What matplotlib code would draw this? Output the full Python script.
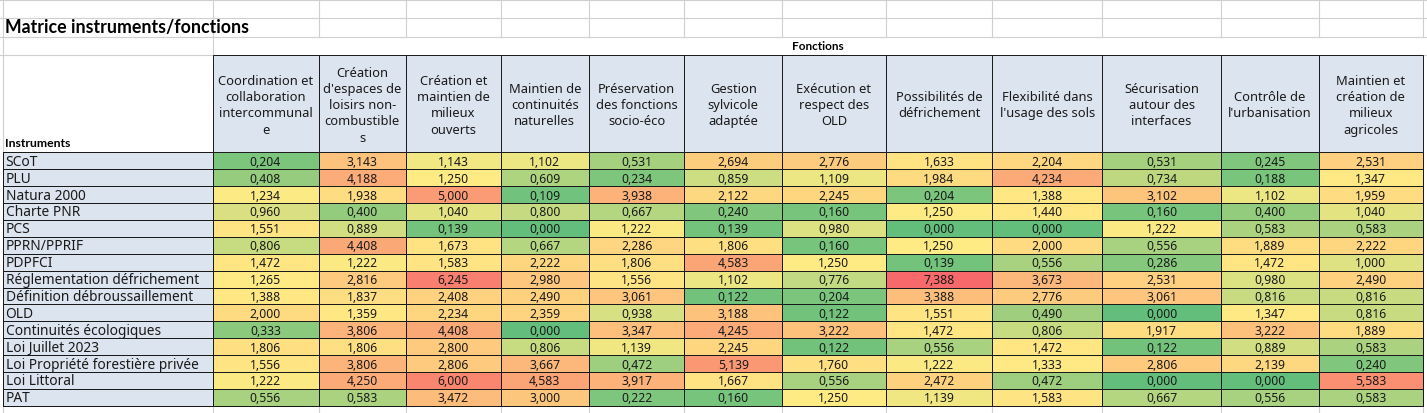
import numpy as np
import matplotlib
matplotlib.use("Agg")
import matplotlib.pyplot as plt
from matplotlib.colors import LinearSegmentedColormap, TwoSlopeNorm
from matplotlib.patches import Rectangle

title = "Matrice instruments/fonctions"
col_group = "Fonctions"
row_group = "Instruments"

instruments = ["SCoT", "PLU", "Natura 2000", "Charte PNR", "PCS", "PPRN/PPRIF", "PDPFCI",
               "Réglementation défrichement", "Définition débroussaillement", "OLD",
               "Continuités écologiques", "Loi Juillet 2023", "Loi Propriété forestière privée",
               "Loi Littoral", "PAT"]

fonctions = ["Coordination et\ncollaboration\nintercommunal\ne",
             "Création\nd'espaces de\nloisirs non-\ncombustible\ns",
             "Création et\nmaintien de\nmilieux\nouverts",
             "Maintien de\ncontinuités\nnaturelles",
             "Préservation\ndes fonctions\nsocio-éco",
             "Gestion\nsylvicole\nadaptée",
             "Exécution et\nrespect des\nOLD",
             "Possibilités de\ndéfrichement",
             "Flexibilité dans\nl'usage des sols",
             "Sécurisation\nautour des\ninterfaces",
             "Contrôle de\nl'urbanisation",
             "Maintien et\ncréation de\nmilieux\nagricoles"]

c1 = [0.204, 0.408, 1.234, 0.960, 1.551, 0.806, 1.472, 1.265, 1.388, 2.000, 0.333, 1.806, 1.556, 1.222, 0.556]
c2 = [3.143, 4.188, 1.938, 0.400, 0.889, 4.408, 1.222, 2.816, 1.837, 1.359, 3.806, 1.806, 3.806, 4.250, 0.583]
c3 = [1.143, 1.250, 5.000, 1.040, 0.139, 1.673, 1.583, 6.245, 2.408, 2.234, 4.408, 2.800, 2.806, 6.000, 3.472]
c4 = [1.102, 0.609, 0.109, 0.800, 0.000, 0.667, 2.222, 2.980, 2.490, 2.359, 0.000, 0.806, 3.667, 4.583, 3.000]
c5 = [0.531, 0.234, 3.938, 0.667, 1.222, 2.286, 1.806, 1.556, 3.061, 0.938, 3.347, 1.139, 0.472, 3.917, 0.222]
c6 = [2.694, 0.859, 2.122, 0.240, 0.139, 1.806, 4.583, 1.102, 0.122, 3.188, 4.245, 2.245, 5.139, 1.667, 0.160]
c7 = [2.776, 1.109, 2.245, 0.160, 0.980, 0.160, 1.250, 0.776, 0.204, 0.122, 3.222, 0.122, 1.760, 0.556, 1.250]
c8 = [1.633, 1.984, 0.204, 1.250, 0.000, 1.250, 0.139, 7.388, 3.388, 1.551, 1.472, 0.556, 1.222, 2.472, 1.139]
c9 = [2.204, 4.234, 1.388, 1.440, 0.000, 2.000, 0.556, 3.673, 2.776, 0.490, 0.806, 1.472, 1.333, 0.472, 1.583]
c10 = [0.531, 0.734, 3.102, 0.160, 1.222, 0.556, 0.286, 2.531, 3.061, 0.000, 1.917, 0.122, 2.806, 0.000, 0.667]
c11 = [0.245, 0.188, 1.102, 0.400, 0.583, 1.889, 1.472, 0.980, 0.816, 1.347, 3.222, 0.889, 2.139, 0.000, 0.556]
c12 = [2.531, 1.347, 1.959, 1.040, 0.583, 2.222, 1.000, 2.490, 0.816, 0.816, 1.889, 0.583, 0.240, 5.583, 0.583]

data = np.array([c1, c2, c3, c4, c5, c6, c7, c8, c9, c10, c11, c12]).T  # rows x cols

# ---- layout (pixels) ----
W, H = 1427, 414
col_edges = np.array([212.5, 318.5, 405.8, 500.6, 589.0, 684.3, 782.3, 885.7, 992.3, 1102.3, 1221.0, 1319.0, 1422.7])
label_left = 3.0
header_top, header_bot = 56.0, 153.3
row_h = 16.9
row_edges = header_bot + row_h * np.arange(len(instruments) + 1)

header_bg = "#DCE4EF"
border = "#1a1a1a"
grid = "#d0d0d0"
txt = "#1a1a1a"
font = ["Noto Sans", "DejaVu Sans"]
bold_font = ["Lato", "DejaVu Sans"]
lw = 0.7

fig = plt.figure(figsize=(W / 100, H / 100), dpi=100)
ax = fig.add_axes([0, 0, 1, 1])
ax.set_xlim(0, W)
ax.set_ylim(H, 0)
ax.axis("off")

# spreadsheet gridlines
for y in [1.0, 19.0, 38.0, 56.0]:
    ax.plot([0, W], [y, y], color=grid, lw=0.8, zorder=0)
for x in np.concatenate([[label_left], col_edges]):
    ax.plot([x, x], [0, 38.0], color=grid, lw=0.8, zorder=0)
    ax.plot([x, x], [row_edges[-1], H], color=grid, lw=0.8, zorder=0)
ax.plot([label_left, label_left], [38.0, header_bot], color=grid, lw=0.8, zorder=0)
ax.plot([col_edges[0], col_edges[0]], [38.0, header_top], color=grid, lw=0.8, zorder=0)

# heatmap colours: Excel 3-colour scale (min green, 50th percentile yellow, max red)
cmap = LinearSegmentedColormap.from_list("gyr", ["#63BE7B", "#FFEB84", "#F8696B"])
norm = TwoSlopeNorm(vmin=data.min(), vcenter=np.percentile(data, 50), vmax=data.max())
rgba = cmap(norm(data))
ax.pcolormesh(col_edges, row_edges, rgba, edgecolors=border, linewidth=lw, zorder=2)

# row label column
lab = np.zeros((len(instruments), 1))
ax.pcolormesh([label_left, col_edges[0]], row_edges, lab,
              cmap=LinearSegmentedColormap.from_list("bg", [header_bg, header_bg]),
              edgecolors=border, linewidth=lw, zorder=2)

# header cells
for j in range(len(fonctions)):
    ax.add_patch(Rectangle((col_edges[j], header_top), col_edges[j + 1] - col_edges[j],
                           header_bot - header_top, facecolor=header_bg, edgecolor=border,
                           lw=lw, zorder=2))
    ax.text((col_edges[j] + col_edges[j + 1]) / 2, (header_top + header_bot) / 2 + 1, fonctions[j],
            ha="center", va="center", fontsize=9.3, family=font, color=txt,
            linespacing=1.33, zorder=3)

# values
for i in range(data.shape[0]):
    yc = (row_edges[i] + row_edges[i + 1]) / 2
    ax.text(label_left + 2.5, yc + 0.5, instruments[i], ha="left", va="center",
            fontsize=9.9, family=font, color=txt, zorder=3)
    for j in range(data.shape[1]):
        ax.text((col_edges[j] + col_edges[j + 1]) / 2, yc + 0.5,
                f"{data[i, j]:.3f}".replace(".", ","), ha="center", va="center",
                fontsize=8.8, family=font, color=txt, zorder=3)

ax.text(5, 28, title, ha="left", va="center", fontsize=12.8, fontweight="bold",
        family=bold_font, color="#000000", zorder=3)
ax.text((col_edges[0] + col_edges[-1]) / 2, 46.5, col_group, ha="center", va="center",
        fontsize=8.5, fontweight="bold", family=bold_font, color="#000000", zorder=3)
ax.text(5, 144, row_group, ha="left", va="center", fontsize=8.8, fontweight="bold",
        family=bold_font, color="#000000", zorder=3)

fig.savefig("out.png", dpi=100, facecolor="white")
